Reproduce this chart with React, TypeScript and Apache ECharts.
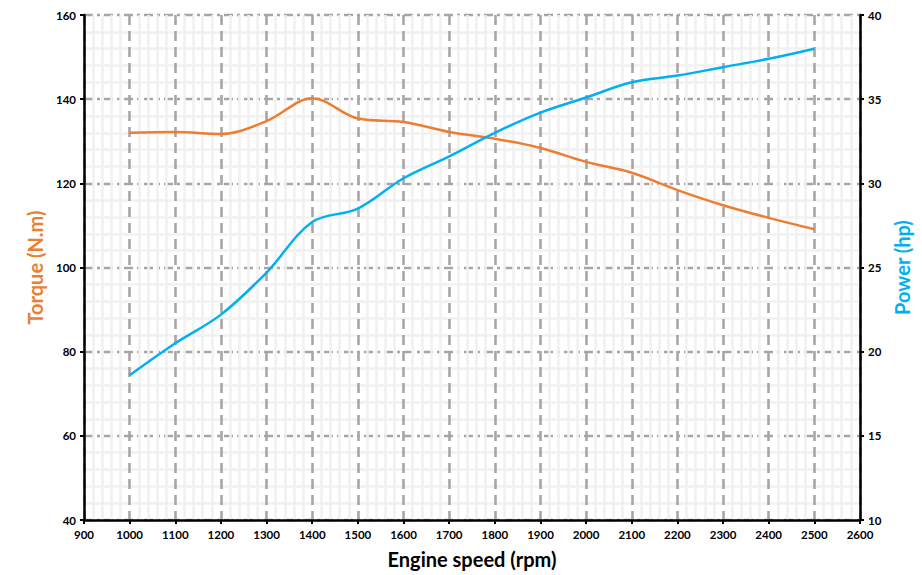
import React, { useEffect, useRef } from "react";
import * as echarts from "echarts";

const rpm = [1000, 1100, 1200, 1300, 1400, 1500, 1600, 1700, 1800, 1900, 2000, 2100, 2200, 2300, 2400, 2500];
const torque = [132.0, 132.2, 131.7, 134.8, 140.2, 135.4, 134.6, 132.2, 130.6, 128.4, 125.1, 122.5, 118.4, 114.8, 111.8, 109.1];
const power = [18.6, 20.5, 22.2, 24.7, 27.7, 28.5, 30.3, 31.6, 33.0, 34.2, 35.1, 36.0, 36.4, 36.9, 37.4, 38.0];

const FONT = "Lato, 'Open Sans', sans-serif";

export default function App() {
  const ref = useRef<HTMLDivElement>(null);
  useEffect(() => {
    if (!ref.current) return;
    const chart = echarts.init(ref.current, undefined, { renderer: "svg" });
    const labelStyle = { color: "#000", fontWeight: "bold" as const, fontSize: 11.5, fontFamily: FONT };
    const axisLine = { show: true, lineStyle: { color: "#000", width: 2.5 } };
    const axisTick = { show: true, length: 4, lineStyle: { color: "#000", width: 2 } };
    const minorSplit = { show: true, lineStyle: { color: "#f1f1f1", width: 2.5 } };
    chart.setOption({
      animation: false,
      backgroundColor: "#fff",
      grid: { left: 84, right: 62, top: 15, bottom: 55 },
      xAxis: {
        type: "value",
        min: 900,
        max: 2600,
        interval: 100,
        axisLine,
        axisTick,
        axisLabel: { ...labelStyle, margin: 8, formatter: (v: number) => String(v) },
        minorTick: { show: false, splitNumber: 5 },
        minorSplitLine: minorSplit,
        splitLine: { show: true, lineStyle: { color: "#aaa5a5", width: 2.6, type: [10, 6] } },
        name: "Engine speed (rpm)",
        nameLocation: "middle",
        nameGap: 29,
        nameTextStyle: { color: "#000", fontWeight: "bold", fontSize: 20, fontFamily: FONT },
      },
      yAxis: [
        {
          type: "value",
          min: 40,
          max: 160,
          interval: 20,
          position: "left",
          axisLine,
          axisTick,
          axisLabel: { ...labelStyle, margin: 8 },
          minorTick: { show: false, splitNumber: 5 },
          minorSplitLine: minorSplit,
          splitLine: { show: true, lineStyle: { color: "#aaa5a5", width: 2.4, type: [9, 4, 3, 4] } },
          name: "Torque (N.m)",
          nameLocation: "middle",
          nameRotate: 90,
          nameGap: 36,
          nameTextStyle: { color: "#ED7D31", fontWeight: "bold", fontSize: 20, fontFamily: FONT },
        },
        {
          type: "value",
          min: 10,
          max: 40,
          interval: 5,
          position: "right",
          axisLine,
          axisTick,
          axisLabel: { ...labelStyle, margin: 8 },
          splitLine: { show: false },
          name: "Power (hp)",
          nameLocation: "middle",
          nameRotate: 90,
          nameGap: 28,
          nameTextStyle: { color: "#00B0F0", fontWeight: "bold", fontSize: 20, fontFamily: FONT },
        },
      ],
      series: [
        {
          name: "Torque",
          type: "line",
          yAxisIndex: 0,
          smooth: 0.35,
          showSymbol: false,
          data: rpm.map((r, i) => [r, torque[i]]),
          lineStyle: { color: "#ED7D31", width: 2.5 },
          itemStyle: { color: "#ED7D31" },
        },
        {
          name: "Power",
          type: "line",
          yAxisIndex: 1,
          smooth: 0.35,
          showSymbol: false,
          data: rpm.map((r, i) => [r, power[i]]),
          lineStyle: { color: "#00B0F0", width: 2.5 },
          itemStyle: { color: "#00B0F0" },
        },
      ],
    });
    return () => chart.dispose();
  }, []);
  return <div ref={ref} style={{ position: "fixed", left: 0, top: 0, width: 922, height: 575 }} />;
}
